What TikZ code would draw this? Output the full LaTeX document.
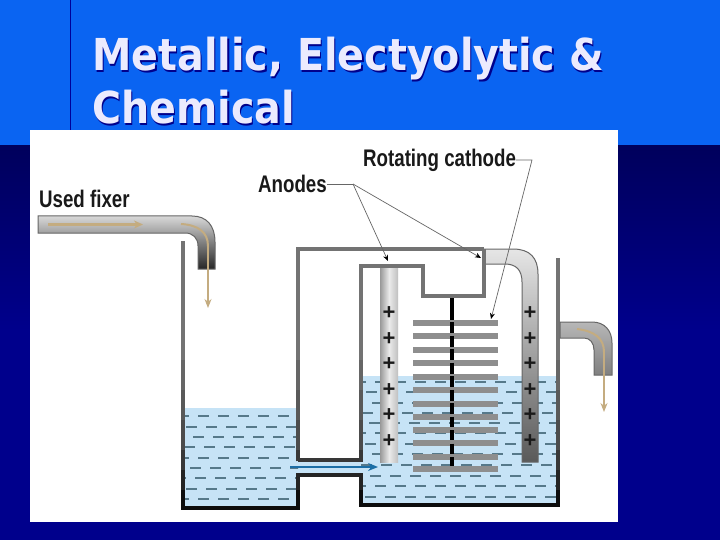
\documentclass[tikz,border=0pt]{standalone}
\usepackage{fontspec}
\usepackage{amsmath}
\usetikzlibrary{arrows.meta}
\setmainfont{Liberation Sans}
\newfontfamily\titlefont{DejaVu Sans}
\definecolor{skyband}{HTML}{0A64F2}
\definecolor{navy}{HTML}{00008C}
\definecolor{navytop}{HTML}{00005C}
\definecolor{water}{HTML}{C6E3F6}
\definecolor{dashcol}{HTML}{56798A}
\definecolor{disk}{HTML}{8E8E8E}
\definecolor{tan}{HTML}{C4AC80}
\definecolor{flow}{HTML}{1B6EA6}
\tikzset{
  titletext/.style={anchor=base west, inner sep=0pt, xscale=0.9, font=\titlefont\bfseries\fontsize{44}{44}\selectfont},
  labeltext/.style={anchor=west, inner sep=0pt, xscale=0.78, font=\bfseries\fontsize{24}{24}\selectfont, text=black!90},
  leader/.style={draw=black!60, line width=0.7pt},
  leadertip/.style={-{Stealth[length=6pt,width=5pt,black]}},
  pipe/.style={draw=black!60, line width=1pt}
}
\newcommand{\tankwalls}{%
  \draw[line width=4pt, line join=miter]
    (183,241) -- (183,508) -- (298,508) -- (298,475) -- (361,475) -- (361,505) -- (558,505) -- (558,258);
  \draw[line width=4pt, line join=miter]
    (298,461) -- (298,249) -- (484,249);
  \draw[line width=4pt, line join=miter]
    (298,460) -- (361,460) -- (361,266) -- (423,266) -- (423,296) -- (484,296) -- (484,249);
}
\begin{document}
\begin{tikzpicture}[x=1pt, y=-1pt, >=stealth]
  \useasboundingbox (0,0) rectangle (720,540);
  % slide
  \fill[navy] (0,0) rectangle (720,540);
  \fill[top color=navytop, bottom color=navy] (0,145) rectangle (720,330);
  \fill[skyband] (0,0) rectangle (720,145);
  \draw[blue!60!black, line width=1pt] (70,0) -- (70,130);
  \fill[white] (30,130) rectangle (618,522);
  % title
  \node[titletext, text=blue!55!black] (title1s) at (93.5,72.5) {Metallic, Electyolytic \&};
  \node[titletext, text=blue!55!black] (title2s) at (93.5,125.5) {Chemical};
  \node[titletext, text=black!5!blue!8!white] (title1) at (92,71) {Metallic, Electyolytic \&};
  \node[titletext, text=black!5!blue!8!white] (title2) at (92,124) {Chemical};
  % water
  \fill[water] (185,408) rectangle (298,507);
  \fill[water] (298,460) rectangle (361,475);
  \fill[water] (361,376) rectangle (558,504);
  \begin{scope}
    \clip (185,408) rectangle (298,507);
    \foreach \y/\ph in {416/0,427/12,437/5,447/14,458/0,468/8,478/3,489/12,499/0}
      \draw[dashcol, line width=1.8pt, dash pattern=on 11pt off 9pt, dash phase=\ph pt] (178,\y) -- (300,\y);
  \end{scope}
  \begin{scope}
    \clip (361,376) rectangle (558,504);
    \foreach \y/\ph in {382/0,392/9,403/3,413/13,423/6,433/0,444/10,454/3,465/14,476/5,486/0,497/10}
      \draw[dashcol, line width=1.7pt, dash pattern=on 11pt off 9pt, dash phase=\ph pt] (355,\y) -- (560,\y);
  \end{scope}
  % shaft and disks
  \draw[black, line width=3.5pt] (452,296) -- (452,467);
  \foreach \y in {323,336,350,363,377,390,404,417,430,443,457,469}
    \fill[disk] (413,\y-2.8) rectangle (498,\y+2.8);
  \draw[black, line width=3.5pt, dash pattern=on 7pt off 6.5pt, dash phase=1pt] (452,296) -- (452,467);
  % anode and cathode bus
  \fill[left color=black!40, right color=black!25, middle color=black!8]
    (380,265) rectangle (398,462);
  \path[pipe, top color=black!10, bottom color=black!65]
    (484,249) -- (513,249) .. controls (530,249) and (538,258) .. (538,274) -- (538,462)
    -- (522,462) -- (522,282) .. controls (522,270) and (516,264) .. (505,264) -- (484,264) -- cycle;
  % walls, darker towards the bottom
  \foreach \ytop/\shade in {230/55,360/60,390/65,420/70,450/78,470/86,490/95}{
    \begin{scope}
      \clip (170,\ytop) rectangle (570,515);
      \begin{scope}[draw=black!\shade] \tankwalls \end{scope}
    \end{scope}
  }
  % plus signs
  \foreach \x in {389,530}
    \foreach \y [count=\i] in {313,339,364,390,415,441}
      \node[inner sep=0pt, font=\bfseries\fontsize{22}{22}\selectfont, text=black!90] (plus\x-\i) at (\x,\y) {+};
  % inlet pipe
  \path[pipe, top color=black!15, middle color=black!28, bottom color=black!85]
    (38,216) -- (192,216) .. controls (207,216) and (215,226) .. (215,242) -- (215,269)
    -- (198,269) -- (198,246) .. controls (198,238) and (193,233) .. (185,233) -- (38,233) -- cycle;
  \draw[tan, line width=2.5pt, -{Stealth[length=9pt,width=8pt]}] (48,224.5) -- (143,224.5);
  \draw[tan, line width=2pt] (181,224) .. controls (198,225) and (208,232) .. (208,246);
  \draw[tan, line width=1.2pt, -{Stealth[length=9pt,width=7pt]}] (208,246) -- (208,308);
  % outlet pipe
  \path[pipe, top color=black!28, bottom color=black!50]
    (560,322) -- (592,322) .. controls (605,322) and (612,331) .. (612,343) -- (612,375)
    -- (594,375) -- (594,350) .. controls (594,343) and (590,338) .. (584,338) -- (560,338) -- cycle;
  \draw[tan, line width=2pt] (577,329) .. controls (594,331) and (604,338) .. (604,352);
  \draw[tan, line width=1.2pt, -{Stealth[length=9pt,width=7pt]}] (604,352) -- (604,412);
  % flow arrow
  \draw[flow, line width=2.5pt, -{Stealth[length=10pt,width=8pt]}] (290,467) -- (378,467);
  % labels
  \node[labeltext] (fixer) at (39,199) {Used fixer};
  \node[labeltext] (anodes) at (258,184) {Anodes};
  \node[labeltext] (cathode) at (363,160) {Rotating cathode};
  \coordinate (anodesplit) at (353,184);
  \coordinate (anodetip) at (388,261);
  \coordinate (bustip) at (481,258);
  \coordinate (cathodebend) at (532,160);
  \coordinate (disktip) at (491,319);
  \draw[leader] (anodes.east) -- (anodesplit);
  \draw[leader, leadertip] (anodesplit) -- (anodetip);
  \draw[leader, leadertip] (anodesplit) -- (bustip);
  \draw[leader, leadertip] (cathode.east) -- (cathodebend) -- (disktip);
\end{tikzpicture}
\end{document}
